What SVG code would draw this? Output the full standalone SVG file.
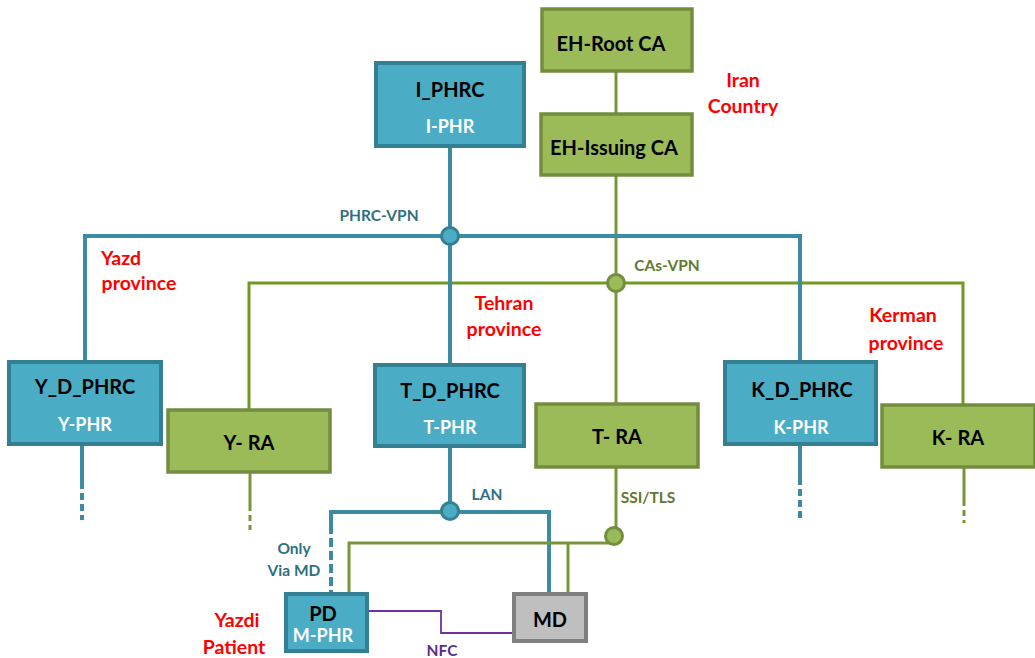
<svg xmlns="http://www.w3.org/2000/svg" width="1035" height="658" viewBox="0 0 1035 658">
<style>
.b{fill:#4bacc6;stroke:#357f93;stroke-width:4}
.g{fill:#9bbb59;stroke:#738d3f;stroke-width:3.5}
.m{fill:#bfbfbf;stroke:#7f7f7f;stroke-width:4}
.t{font-family:Lato,"Open Sans","Liberation Sans",sans-serif;font-weight:bold;text-anchor:middle}
.k{fill:#000;font-size:20px}
.w{fill:#fff;font-size:18px}
.r{fill:#ff0000;font-size:19.5px}
.bl{fill:none;stroke:#3a8ba3;stroke-width:4}
.gl{fill:none;stroke:#77963a;stroke-width:3}
.cb{fill:#4bacc6;stroke:#357f93;stroke-width:3}
.cg{fill:#9bbb59;stroke:#738d3f;stroke-width:3}
.lb{fill:#2f6f80;font-size:15.5px}
.lg{fill:#5f7a30;font-size:15.5px}
</style>
<g id="connectors">
<line class="gl" x1="616" y1="71" x2="616" y2="114"/>
<line class="gl" x1="616" y1="175" x2="616" y2="404"/>
<polyline class="gl" points="249,410 249,283 963,283 963,405" style="stroke:#6f9a22"/>
<polyline class="bl" points="85,362 85,236 800,236 800,362"/>
<line class="bl" x1="450" y1="146" x2="450" y2="365"/>
<circle class="cb" cx="450" cy="236" r="8.5"/>
<circle class="cg" cx="616" cy="283" r="8.5"/>
<line class="bl" x1="82" y1="444" x2="82" y2="482"/>
<line class="bl" x1="82" y1="482" x2="82" y2="520" stroke-dasharray="7,4"/>
<line class="gl" x1="250" y1="472" x2="250" y2="505"/>
<line class="gl" x1="250" y1="505" x2="250" y2="530" stroke-dasharray="6,4"/>
<line class="bl" x1="800" y1="444" x2="800" y2="478"/>
<line class="bl" x1="800" y1="478" x2="800" y2="518" stroke-dasharray="7,4"/>
<line class="gl" x1="964" y1="467" x2="964" y2="500"/>
<line class="gl" x1="964" y1="500" x2="964" y2="523" stroke-dasharray="6,4"/>
<line class="bl" x1="450" y1="446" x2="450" y2="512"/>
<polyline class="bl" points="331,525 331,512 549,512 549,594"/>
<line class="bl" x1="331" y1="525" x2="331" y2="594" stroke-dasharray="9,4"/>
<line class="gl" x1="616" y1="467" x2="616" y2="536"/>
<polyline class="gl" points="349,594 349,543 612,543"/>
<line class="gl" x1="568" y1="543" x2="568" y2="594"/>
<circle class="cb" cx="450" cy="511" r="8.5"/>
<circle class="cg" cx="614" cy="536" r="8.5"/>
<polyline points="367,611 441,611 441,633 514,633" fill="none" stroke="#7030a0" stroke-width="1.8"/>
<text class="t lb" x="379" y="221">PHRC-VPN</text>
<text class="t lg" x="667" y="271">CAs-VPN</text>
<text class="t lb" x="487" y="500">LAN</text>
<text class="t lg" x="648" y="503">SSI/TLS</text>
<text class="t lb" x="294" y="554">Only</text>
<text class="t lb" x="294" y="576">Via MD</text>
<text class="t" x="442" y="656" style="fill:#5b2f80;font-size:15.5px">NFC</text>
</g>
<g id="eh-root"><rect class="g" x="542" y="9" width="150" height="62"/><text class="t k" x="611" y="51">EH-Root CA</text></g>
<g id="eh-issuing"><rect class="g" x="541" y="114" width="151" height="61"/><text class="t k" x="614" y="155">EH-Issuing CA</text></g>
<g id="i-phrc"><rect class="b" x="376" y="63" width="148" height="83"/><text class="t k" x="450" y="97">I_PHRC</text><text class="t w" x="450" y="133">I-PHR</text></g>
<g id="y-d-phrc"><rect class="b" x="9" y="362" width="152" height="82"/><text class="t k" x="85" y="394">Y_D_PHRC</text><text class="t w" x="85" y="431">Y-PHR</text></g>
<g id="y-ra"><rect class="g" x="168" y="410" width="162" height="62"/><text class="t k" x="249" y="450">Y- RA</text></g>
<g id="t-d-phrc"><rect class="b" x="375" y="365" width="149" height="81"/><text class="t k" x="450" y="398">T_D_PHRC</text><text class="t w" x="450" y="434">T-PHR</text></g>
<g id="t-ra"><rect class="g" x="536" y="404" width="162" height="63"/><text class="t k" x="617" y="444">T- RA</text></g>
<g id="k-d-phrc"><rect class="b" x="725" y="362" width="151" height="82"/><text class="t k" x="802" y="397">K_D_PHRC</text><text class="t w" x="801" y="434">K-PHR</text></g>
<g id="k-ra"><rect class="g" x="882" y="405" width="153" height="62"/><text class="t k" x="958" y="445">K- RA</text></g>
<g id="pd"><rect class="b" x="286" y="594" width="81" height="57"/><text class="t k" x="323" y="621">PD</text><text class="t w" x="323" y="642">M-PHR</text></g>
<g id="md"><rect class="m" x="514" y="594" width="72" height="47"/><text class="t k" x="550" y="627">MD</text></g>
<g id="labels">
<text class="t r" x="743" y="87">Iran</text>
<text class="t r" x="743" y="113">Country</text>
<text class="t r" x="121" y="265">Yazd</text>
<text class="t r" x="139" y="290">province</text>
<text class="t r" x="504" y="310">Tehran</text>
<text class="t r" x="504" y="336">province</text>
<text class="t r" x="903" y="322">Kerman</text>
<text class="t r" x="906" y="350">province</text>
<text class="t r" x="237" y="627">Yazdi</text>
<text class="t r" x="234" y="654">Patient</text>
</g>
</svg>
